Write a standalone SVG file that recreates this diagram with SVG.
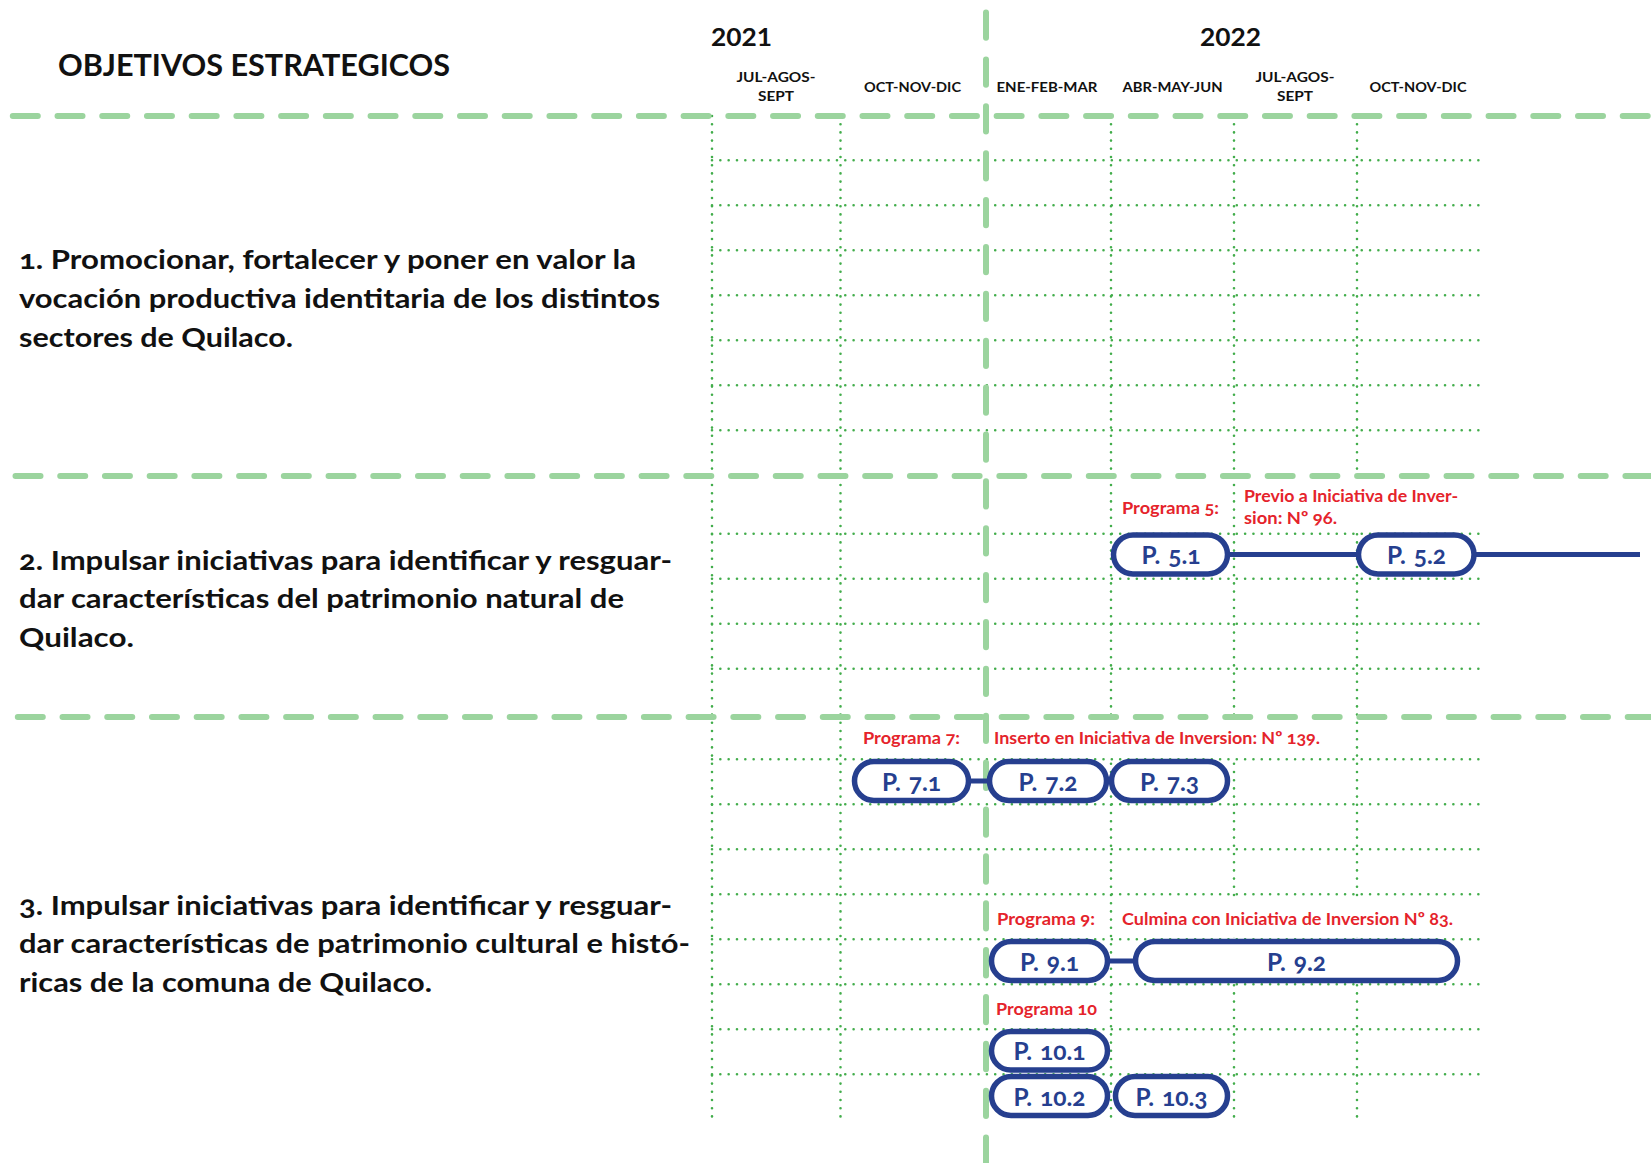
<svg xmlns="http://www.w3.org/2000/svg" width="1651" height="1163" viewBox="0 0 1651 1163">
<style>
text{font-family:Lato,"Open Sans","Liberation Sans",sans-serif;font-weight:bold;font-variant-numeric:oldstyle-nums}
.title{font-size:31px;fill:#111}
.year{font-size:24px;fill:#111;text-anchor:middle;font-variant-numeric:lining-nums}
.q{font-size:14px;fill:#111;text-anchor:middle}
.obj{font-size:27px;fill:#111}
.red{font-size:17.5px;fill:#e5232b}
.pill{fill:#fff;stroke:#263f8f;stroke-width:5.5}
.plbl{font-size:24.5px;fill:#263f8f;text-anchor:middle}
.conn{stroke:#263f8f;stroke-width:5;fill:none}
.dh{stroke:#42ad4b;stroke-width:2.6;stroke-linecap:round;stroke-dasharray:0 8.33;fill:none}
.dv{stroke:#42ad4b;stroke-width:2.6;stroke-linecap:round;stroke-dasharray:0 8.2;fill:none}
.dash{stroke:#9bd49e;stroke-width:6;stroke-linecap:round;stroke-dasharray:25 19.72;fill:none}
.dashv{stroke:#9bd49e;stroke-width:6;stroke-linecap:round;stroke-dasharray:25.3 21.58;fill:none}
.bg{fill:#fff}
</style>
<rect width="1651" height="1163" fill="#fff"/>

<g id="grid">
  <g id="rows">
    <path class="dh" d="M712 160.3H1479M712 205.3H1479M712 250.3H1479M712 295.3H1479M712 340.3H1479M712 385.3H1479M712 430.3H1479"/>
    <path class="dh" d="M712 533.7H1479M712 578.7H1479M712 623.7H1479M712 668.7H1479"/>
    <path class="dh" d="M712 759.3H1479M712 804.3H1479M712 849.3H1479M712 894.3H1479M712 939.3H1479M712 984.3H1479M712 1029.3H1479M712 1074.3H1479"/>
  </g>
  <g id="cols">
    <path class="dv" d="M712 116V1119M840.5 116V1119M1111 116V1119M1234 116V1119M1357 116V1119"/>
  </g>
  <g id="dividers">
    <line class="dash" x1="12.8" y1="116" x2="1651" y2="116"/>
    <line class="dash" x1="15.5" y1="476" x2="1651" y2="476"/>
    <line class="dash" x1="17.8" y1="717" x2="1651" y2="717"/>
    <line class="dashv" x1="986" y1="12.5" x2="986" y2="1163"/>
  </g>
</g>

<g id="label-backgrounds">
  <rect class="bg" x="1240" y="479" width="244" height="52"/>
  <rect class="bg" x="990" y="720" width="355" height="37"/>
  <rect class="bg" x="1116" y="897" width="354" height="40"/>
</g>

<g id="header">
  <text class="title" x="58" y="76" textLength="392" lengthAdjust="spacingAndGlyphs">OBJETIVOS ESTRATEGICOS</text>
  <text class="year" x="741.5" y="46" textLength="61" lengthAdjust="spacingAndGlyphs">2021</text>
  <text class="year" x="1230.5" y="46" textLength="61" lengthAdjust="spacingAndGlyphs">2022</text>
  <text class="q" x="776" y="82" textLength="79" lengthAdjust="spacingAndGlyphs">JUL-AGOS-</text>
  <text class="q" x="776" y="101" textLength="36" lengthAdjust="spacingAndGlyphs">SEPT</text>
  <text class="q" x="912.5" y="92" textLength="97" lengthAdjust="spacingAndGlyphs">OCT-NOV-DIC</text>
  <text class="q" x="1047" y="92" textLength="101" lengthAdjust="spacingAndGlyphs">ENE-FEB-MAR</text>
  <text class="q" x="1172.5" y="92" textLength="100" lengthAdjust="spacingAndGlyphs">ABR-MAY-JUN</text>
  <text class="q" x="1295" y="82" textLength="79" lengthAdjust="spacingAndGlyphs">JUL-AGOS-</text>
  <text class="q" x="1295" y="101" textLength="36" lengthAdjust="spacingAndGlyphs">SEPT</text>
  <text class="q" x="1418" y="92" textLength="97" lengthAdjust="spacingAndGlyphs">OCT-NOV-DIC</text>
</g>

<g id="objetivo-1">
  <text class="obj" x="19" y="269" textLength="617" lengthAdjust="spacingAndGlyphs">1. Promocionar, fortalecer y poner en valor la</text>
  <text class="obj" x="19" y="308" textLength="641" lengthAdjust="spacingAndGlyphs">vocación productiva identitaria de los distintos</text>
  <text class="obj" x="19" y="347" textLength="274" lengthAdjust="spacingAndGlyphs">sectores de Quilaco.</text>
</g>
<g id="objetivo-2">
  <text class="obj" x="19" y="569.5" textLength="653" lengthAdjust="spacingAndGlyphs">2. Impulsar iniciativas para identificar y resguar-</text>
  <text class="obj" x="19" y="608" textLength="605" lengthAdjust="spacingAndGlyphs">dar características del patrimonio natural de</text>
  <text class="obj" x="19" y="646.5" textLength="115" lengthAdjust="spacingAndGlyphs">Quilaco.</text>
</g>
<g id="objetivo-3">
  <text class="obj" x="19" y="915" textLength="653" lengthAdjust="spacingAndGlyphs">3. Impulsar iniciativas para identificar y resguar-</text>
  <text class="obj" x="19" y="953" textLength="671" lengthAdjust="spacingAndGlyphs">dar características de patrimonio cultural e histó-</text>
  <text class="obj" x="19" y="992" textLength="413" lengthAdjust="spacingAndGlyphs">ricas de la comuna de Quilaco.</text>
</g>

<g id="program-labels">
  <text class="red" x="1122" y="514" textLength="97" lengthAdjust="spacingAndGlyphs">Programa 5:</text>
  <text class="red" x="1244" y="502" textLength="214" lengthAdjust="spacingAndGlyphs">Previo a Iniciativa de Inver-</text>
  <text class="red" x="1244" y="524" textLength="93" lengthAdjust="spacingAndGlyphs">sion: Nº 96.</text>
  <text class="red" x="863" y="744" textLength="97" lengthAdjust="spacingAndGlyphs">Programa 7:</text>
  <text class="red" x="994" y="744" textLength="326" lengthAdjust="spacingAndGlyphs">Inserto en Iniciativa de Inversion: Nº 139.</text>
  <text class="red" x="997" y="925" textLength="98" lengthAdjust="spacingAndGlyphs">Programa 9:</text>
  <text class="red" x="1122" y="925" textLength="331" lengthAdjust="spacingAndGlyphs">Culmina con Iniciativa de Inversion Nº 83.</text>
  <text class="red" x="996" y="1015" textLength="101" lengthAdjust="spacingAndGlyphs">Programa 10</text>
</g>

<g id="connectors">
  <line class="conn" x1="1228" y1="554.5" x2="1640" y2="554.5"/>
  <line class="conn" x1="968" y1="781" x2="991" y2="781"/>
  <line class="conn" x1="1106" y1="961" x2="1138" y2="961"/>
</g>

<g id="p5-1"><rect class="pill" x="1113.5" y="535" width="114" height="39" rx="19.5"/><text class="plbl" x="1171" y="564">P.<tspan dx="8">5.1</tspan></text></g>
<g id="p5-2"><rect class="pill" x="1358.5" y="535" width="115.5" height="39" rx="19.5"/><text class="plbl" x="1416.5" y="564">P.<tspan dx="8">5.2</tspan></text></g>
<g id="p7-1"><rect class="pill" x="854.5" y="761.5" width="114" height="39" rx="19.5"/><text class="plbl" x="911.5" y="790.5">P.<tspan dx="8">7.1</tspan></text></g>
<g id="p7-2"><rect class="pill" x="989.5" y="761.5" width="117" height="39" rx="19.5"/><text class="plbl" x="1048" y="790.5">P.<tspan dx="8">7.2</tspan></text></g>
<g id="p7-3"><rect class="pill" x="1111.5" y="761.5" width="116" height="39" rx="19.5"/><text class="plbl" x="1169.5" y="790.5">P.<tspan dx="8">7.3</tspan></text></g>
<g id="p9-1"><rect class="pill" x="991.5" y="941.5" width="116" height="39" rx="19.5"/><text class="plbl" x="1049.5" y="970.5">P.<tspan dx="8">9.1</tspan></text></g>
<g id="p9-2"><rect class="pill" x="1135.5" y="941.5" width="322" height="39" rx="19.5"/><text class="plbl" x="1296.5" y="970.5">P.<tspan dx="8">9.2</tspan></text></g>
<g id="p10-1"><rect class="pill" x="991.5" y="1031.5" width="116" height="38.5" rx="19.25"/><text class="plbl" x="1049.5" y="1060">P.<tspan dx="8">10.1</tspan></text></g>
<g id="p10-2"><rect class="pill" x="991.5" y="1076.5" width="116" height="39" rx="19.5"/><text class="plbl" x="1049.5" y="1105.5">P.<tspan dx="8">10.2</tspan></text></g>
<g id="p10-3"><rect class="pill" x="1115.5" y="1076.5" width="112" height="39" rx="19.5"/><text class="plbl" x="1171.5" y="1105.5">P.<tspan dx="8">10.3</tspan></text></g>
</svg>
